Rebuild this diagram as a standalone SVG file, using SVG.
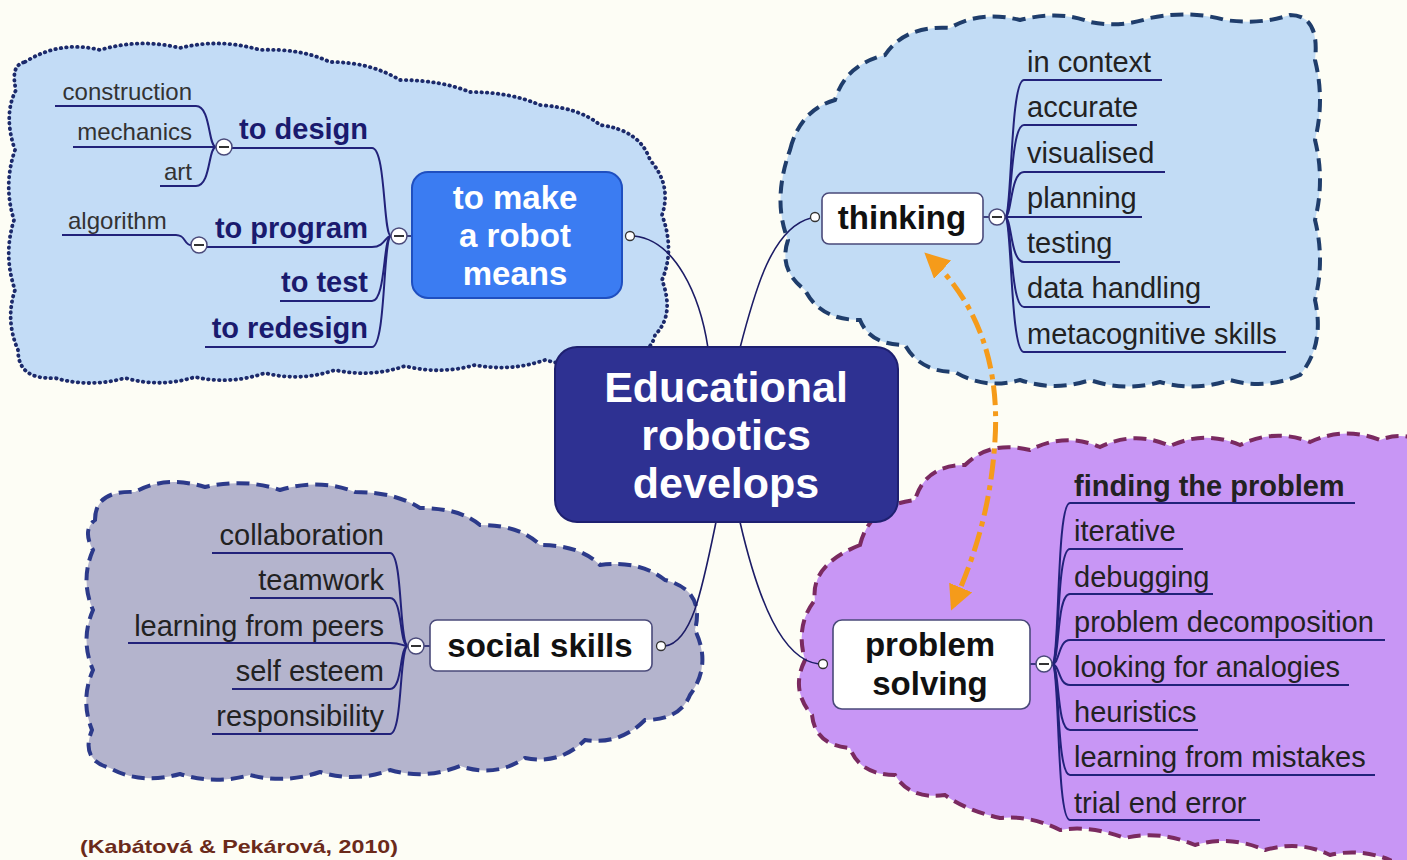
<svg xmlns="http://www.w3.org/2000/svg" width="1407" height="860" viewBox="0 0 1407 860">
<defs>
<style>
.bg{fill:#fdfdf5}
.cl1{fill:#c3dcf6;stroke:#1c2a6b;stroke-width:3.8;stroke-dasharray:0.5 5;stroke-linecap:round}
.cl2{fill:#c2dcf5;stroke:#1f3d6b;stroke-width:4;stroke-dasharray:13 7}
.cl3{fill:#b4b4cd;stroke:#2c3a8a;stroke-width:4;stroke-dasharray:13 7}
.cl4{fill:#c896f5;stroke:#7a2a60;stroke-width:4;stroke-dasharray:13 7}
.ln{fill:none;stroke:#1c1c66;stroke-width:1.6}
.ul{fill:none;stroke:#22227a;stroke-width:2}
.ctr{fill:#2e3192;stroke:#1e2070;stroke-width:2}
.mk{fill:#3b7cf2;stroke:#1f4fc0;stroke-width:2}
.wn{fill:#fff;stroke:#4a4a7a;stroke-width:1.6}
.mc{fill:#fff;stroke:#4a4a7a;stroke-width:1.5}
.dash{stroke:#333;stroke-width:2}
.hc{fill:#fff;stroke:#333;stroke-width:1.3}
.t{font-family:"Liberation Sans",Arial,sans-serif}
.wt{fill:#fff;font-weight:bold;text-anchor:middle}
.bk{fill:#111;font-weight:bold;text-anchor:middle;font-size:33px}
.ch{fill:#222;font-size:29px}
.nv{fill:#1a1a6e;font-weight:bold;font-size:29px;text-anchor:end}
.sm{fill:#333;font-size:24px}
.arr{fill:none;stroke:#f59b1a;stroke-width:5;stroke-dasharray:20 6 5 6}
</style>
<marker id="ah" viewBox="0 0 10 10" refX="8" refY="5" markerWidth="5" markerHeight="5" orient="auto-start-reverse" markerUnits="strokeWidth">
<path d="M0,0 L10,5 L0,10 z" fill="#f59b1a"/>
</marker>
</defs>
<rect class="bg" x="0" y="0" width="1407" height="860"/>

<g id="clouds">
<path class="cl1" d="M 25,62 Q 60,40 100,50 Q 140,38 180,48 Q 220,38 260,50 Q 300,48 330,62 Q 370,62 400,80 Q 440,80 470,92 Q 510,92 540,105 Q 580,108 600,125 Q 640,130 650,160 Q 672,185 662,215 Q 675,250 662,280 Q 675,315 655,335 Q 650,358 615,358 Q 580,370 545,360 Q 510,372 475,365 Q 440,375 405,366 Q 370,378 335,370 Q 300,382 265,373 Q 230,385 195,377 Q 160,388 125,378 Q 90,388 55,378 Q 18,380 18,350 Q 5,320 15,290 Q 3,255 14,220 Q 3,185 15,150 Q 3,115 16,90 Q 10,65 25,62 Z"/>
<path class="cl2" d="M 790,150 Q 800,110 835,100 Q 845,65 885,55 Q 905,25 950,28 Q 980,10 1020,20 Q 1060,10 1090,22 Q 1120,28 1150,18 Q 1190,10 1225,20 Q 1260,25 1290,15 Q 1320,15 1315,60 Q 1325,100 1315,140 Q 1325,180 1315,220 Q 1325,260 1315,300 Q 1325,345 1300,375 Q 1265,390 1230,380 Q 1195,392 1160,382 Q 1125,392 1090,380 Q 1055,392 1020,380 Q 985,390 955,372 Q 920,372 905,345 Q 870,345 860,320 Q 820,320 805,290 Q 778,270 788,240 Q 772,200 790,150 Z"/>
<path class="cl3" d="M 95,520 Q 95,490 135,492 Q 165,475 205,487 Q 245,478 280,490 Q 320,478 355,492 Q 395,492 420,508 Q 460,508 480,525 Q 520,525 540,545 Q 580,545 600,565 Q 640,560 665,580 Q 705,590 695,630 Q 712,665 690,695 Q 680,720 645,720 Q 620,745 585,740 Q 560,765 525,758 Q 495,778 460,766 Q 425,780 390,770 Q 355,783 320,772 Q 285,784 250,775 Q 215,785 180,774 Q 140,785 110,768 Q 80,760 92,730 Q 80,700 93,670 Q 80,640 93,610 Q 80,580 93,550 Q 82,530 95,520 Z"/>
<path class="cl4" d="M 860,545 Q 870,505 915,500 Q 925,465 965,465 Q 990,440 1030,450 Q 1065,432 1100,447 Q 1135,430 1170,446 Q 1205,430 1240,445 Q 1275,428 1310,442 Q 1345,426 1380,440 Q 1400,432 1420,440 L 1420,870 L 1390,870 L 1390,860 Q 1360,848 1330,855 Q 1300,840 1265,850 Q 1230,835 1195,845 Q 1160,830 1125,838 Q 1090,825 1060,830 Q 1030,815 1000,818 Q 965,810 945,795 Q 910,800 895,775 Q 860,775 850,748 Q 815,745 812,715 Q 790,690 805,660 Q 795,625 815,600 Q 810,565 860,545 Z"/>
</g>

<g id="connectors">
<path class="ln" d="M 708,348 C 700,295 675,240 634,236"/>
<path class="ln" d="M 740,348 C 755,290 772,228 811,218"/>
<path class="ln" d="M 716,522 C 702,590 692,642 665,646"/>
<path class="ln" d="M 740,522 C 758,600 782,660 819,664"/>
<path class="ln" d="M 407,236 H 412"/>
<path class="ul" d="M 391,236 C 383,236 386,148 372,148 H 232"/>
<path class="ul" d="M 391,236 C 385,236 385,247 372,247 H 207"/>
<path class="ul" d="M 391,236 C 383,236 386,301 372,301 H 280"/>
<path class="ul" d="M 391,236 C 383,236 386,347 372,347 H 205"/>
<path class="ul" d="M 216,147 C 208,147 211,106 196,106 H 55"/>
<path class="ul" d="M 216,147 H 73"/>
<path class="ul" d="M 216,147 C 208,147 211,186 196,186 H 160"/>
<path class="ul" d="M 191,245 C 184,245 186,235 176,235 H 62"/>
<path class="ln" d="M 983,217 H 989"/>
<path class="ul" d="M 1005,217 C 1012,217 1010,80 1024,80 H 1162"/>
<path class="ul" d="M 1005,217 C 1012,217 1010,125 1024,125 H 1137"/>
<path class="ul" d="M 1005,217 C 1012,217 1010,172 1024,172 H 1165"/>
<path class="ul" d="M 1005,217 H 1142"/>
<path class="ul" d="M 1005,217 C 1012,217 1010,262 1024,262 H 1120"/>
<path class="ul" d="M 1005,217 C 1012,217 1010,307 1024,307 H 1210"/>
<path class="ul" d="M 1005,217 C 1012,217 1010,352 1024,352 H 1286"/>
<path class="ln" d="M 424,646 H 430"/>
<path class="ul" d="M 408,646 C 399,646 403,553 390,553 H 212"/>
<path class="ul" d="M 408,646 C 399,646 403,598 390,598 H 250"/>
<path class="ul" d="M 408,646 C 402,646 402,643 390,643 H 128"/>
<path class="ul" d="M 408,646 C 399,646 403,689 390,689 H 232"/>
<path class="ul" d="M 408,646 C 399,646 403,734 390,734 H 212"/>
<path class="ln" d="M 1030,664 H 1036"/>
<path class="ul" d="M 1052,664 C 1060,664 1056,503 1070,503 H 1355"/>
<path class="ul" d="M 1052,664 C 1060,664 1056,549 1070,549 H 1183"/>
<path class="ul" d="M 1052,664 C 1060,664 1056,594 1070,594 H 1213"/>
<path class="ul" d="M 1052,664 C 1060,664 1058,640 1070,640 H 1385"/>
<path class="ul" d="M 1052,664 C 1060,664 1058,685 1070,685 H 1349"/>
<path class="ul" d="M 1052,664 C 1060,664 1056,730 1070,730 H 1198"/>
<path class="ul" d="M 1052,664 C 1060,664 1056,775 1070,775 H 1375"/>
<path class="ul" d="M 1052,664 C 1060,664 1056,820 1070,820 H 1260"/>
<path class="arr" d="M 928,256 C 975,300 1000,360 995,440 C 990,520 968,570 953,606" marker-start="url(#ah)" marker-end="url(#ah)"/>
</g>

<g id="node-center">
<rect class="ctr" x="555" y="347" width="343" height="175" rx="22"/>
<text class="t wt" x="726" y="402" font-size="43">Educational</text>
<text class="t wt" x="726" y="450" font-size="43">robotics</text>
<text class="t wt" x="726" y="498" font-size="43">develops</text>
</g>

<g id="node-make">
<rect class="mk" x="412" y="172" width="210" height="126" rx="16"/>
<text class="t wt" x="515" y="209" font-size="33">to make</text>
<text class="t wt" x="515" y="247" font-size="33">a robot</text>
<text class="t wt" x="515" y="285" font-size="33">means</text>
<circle class="hc" cx="630" cy="236" r="4.5"/>
<circle class="mc" cx="399" cy="236" r="8"/><line class="dash" x1="394" y1="236" x2="404" y2="236"/>
</g>
<g id="node-design"><text class="t nv" x="368" y="139">to design</text>
<circle class="mc" cx="224" cy="147" r="8"/><line class="dash" x1="219" y1="147" x2="229" y2="147"/></g>
<g id="node-program"><text class="t nv" x="368" y="238">to program</text>
<circle class="mc" cx="199" cy="245" r="8"/><line class="dash" x1="194" y1="245" x2="204" y2="245"/></g>
<g id="node-test"><text class="t nv" x="368" y="292">to test</text></g>
<g id="node-redesign"><text class="t nv" x="368" y="338">to redesign</text></g>
<g id="node-construction"><text class="t sm" x="192" y="100" text-anchor="end">construction</text></g>
<g id="node-mechanics"><text class="t sm" x="192" y="140" text-anchor="end">mechanics</text></g>
<g id="node-art"><text class="t sm" x="192" y="180" text-anchor="end">art</text></g>
<g id="node-algorithm"><text class="t sm" x="68" y="229">algorithm</text></g>

<g id="node-thinking">
<rect class="wn" x="822" y="193" width="161" height="51" rx="7"/>
<text class="t bk" x="902" y="229">thinking</text>
<circle class="hc" cx="815" cy="217" r="4.5"/>
<circle class="mc" cx="997" cy="217" r="8"/><line class="dash" x1="992" y1="217" x2="1002" y2="217"/>
</g>
<g id="thinking-children">
<text class="t ch" x="1027" y="72">in context</text>
<text class="t ch" x="1027" y="117">accurate</text>
<text class="t ch" x="1027" y="163">visualised</text>
<text class="t ch" x="1027" y="208">planning</text>
<text class="t ch" x="1027" y="253">testing</text>
<text class="t ch" x="1027" y="298">data handling</text>
<text class="t ch" x="1027" y="344">metacognitive skills</text>
</g>

<g id="node-social">
<rect class="wn" x="430" y="620" width="222" height="51" rx="7"/>
<text class="t bk" x="540" y="657">social skills</text>
<circle class="hc" cx="661" cy="646" r="4.5"/>
<circle class="mc" cx="416" cy="646" r="8"/><line class="dash" x1="411" y1="646" x2="421" y2="646"/>
</g>
<g id="social-children">
<text class="t ch" x="384" y="545" text-anchor="end">collaboration</text>
<text class="t ch" x="384" y="590" text-anchor="end">teamwork</text>
<text class="t ch" x="384" y="636" text-anchor="end">learning from peers</text>
<text class="t ch" x="384" y="681" text-anchor="end">self esteem</text>
<text class="t ch" x="384" y="726" text-anchor="end">responsibility</text>
</g>

<g id="node-problem">
<rect class="wn" x="833" y="620" width="197" height="89" rx="9"/>
<text class="t bk" x="930" y="656">problem</text>
<text class="t bk" x="930" y="695">solving</text>
<circle class="hc" cx="823" cy="664" r="4.5"/>
<circle class="mc" cx="1044" cy="664" r="8"/><line class="dash" x1="1039" y1="664" x2="1049" y2="664"/>
</g>
<g id="problem-children">
<text class="t ch" x="1074" y="496" font-weight="bold" fill="#111">finding the problem</text>
<text class="t ch" x="1074" y="541">iterative</text>
<text class="t ch" x="1074" y="587">debugging</text>
<text class="t ch" x="1074" y="632">problem decomposition</text>
<text class="t ch" x="1074" y="677">looking for analogies</text>
<text class="t ch" x="1074" y="722">heuristics</text>
<text class="t ch" x="1074" y="767">learning from mistakes</text>
<text class="t ch" x="1074" y="813">trial end error</text>
</g>

<text class="t" x="80" y="853" font-size="19" font-weight="bold" fill="#6b2a1a" textLength="318" lengthAdjust="spacingAndGlyphs">(Kabátová &amp; Pekárová, 2010)</text>
</svg>
